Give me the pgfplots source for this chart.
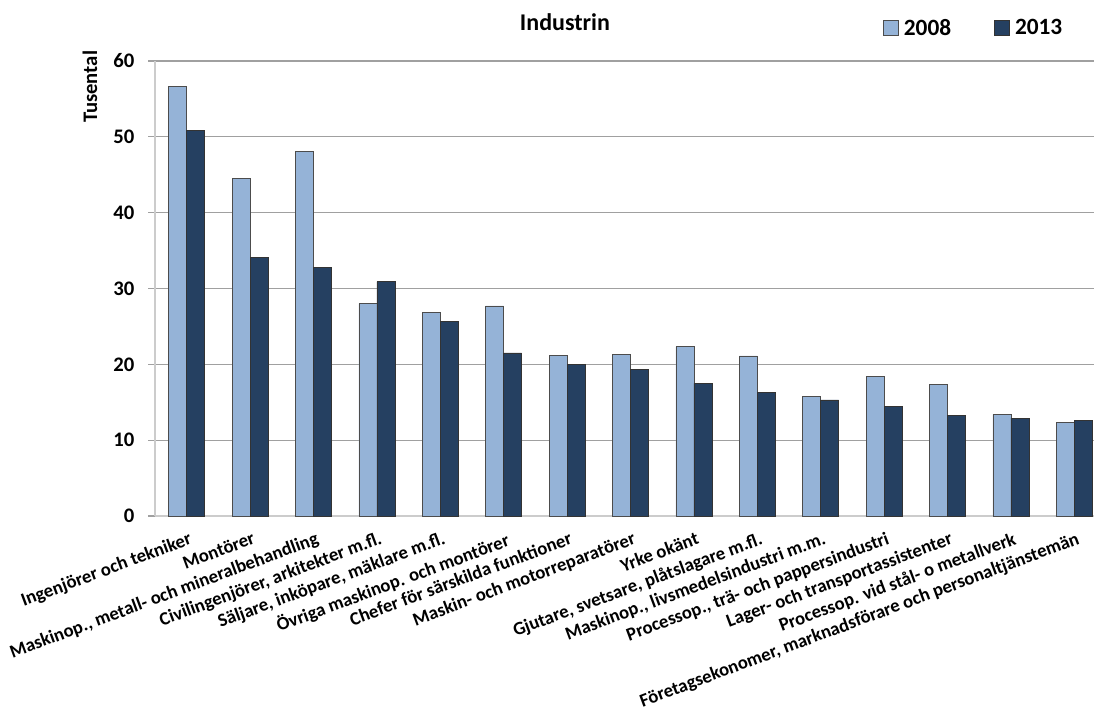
\documentclass[border=0pt]{standalone}
\usepackage{fontspec}
\setmainfont{Carlito}
\usepackage{pgfplots}
\pgfplotsset{compat=1.18}
\definecolor{c2008}{HTML}{95B3D7}
\definecolor{c2013}{HTML}{254061}
\definecolor{gridc}{HTML}{A0A0A0}
\definecolor{axisc}{HTML}{CCCCCC}
\pgfplotsset{
 legsq/.style={legend image code/.code={\draw[##1,line width=0.6pt] (0pt,-5.6pt) rectangle (11.25pt,5.6pt);}},
}
\begin{document}
\begin{tikzpicture}
\begin{axis}[
 at={(0,0)}, anchor=south west,
 width=704.25pt, height=341.25pt, scale only axis,
 xmin=-0.5, xmax=14.31, ymin=0, ymax=60,
 ybar=0pt, bar width=13.5pt,
 axis x line*=bottom, axis y line*=left,
 axis line style={-},
 x axis line style={draw=axisc, line width=1pt},
 y axis line style={draw=axisc, line width=1pt},
 ymajorgrids, grid style={gridc, line width=0.8pt},
 ytick={0,10,...,60},
 tick align=outside, major tick length=5.25pt,
 ytick style={draw=gridc, line width=0.8pt},
 xtick={0,...,14}, xtick style={draw=none},
 xticklabels={Ingenjörer och tekniker, Montörer, {Maskinop., metall- och mineralbehandling}, {Civilingenjörer, arkitekter m.fl.}, {Säljare, inköpare, mäklare m.fl.}, Övriga maskinop. och montörer, Chefer för särskilda funktioner, Maskin- och motorreparatörer, Yrke okänt, {Gjutare, svetsare, plåtslagare m.fl.}, {Maskinop., livsmedelsindustri m.m.}, {Processop., trä- och pappersindustri}, Lager- och transportassistenter, Processop. vid stål- o metallverk, {Företagsekonomer, marknadsförare och personaltjänstemän}},
 xticklabel style={rotate=20.5, anchor=north east, inner sep=1pt, yshift=-5pt, font=\bfseries\fontsize{14}{16}\selectfont},
 yticklabel style={xshift=-6.75pt, font=\bfseries\fontsize{15.5}{18}\selectfont},
 /pgf/number format/assume math mode=true,
 ylabel={Tusental},
 ylabel style={at={(axis description cs:0,0.943)}, yshift=48.75pt, anchor=center, font=\bfseries\fontsize{15.5}{18}\selectfont},
 title={Industrin},
 title style={at={(axis description cs:0.4366,1)}, anchor=center, yshift=23pt, font=\bfseries\fontsize{18}{21}\selectfont},
 legend style={at={(axis description cs:0.7705,1.0725)}, anchor=west, draw=none, fill=none, legend columns=2, font=\bfseries\fontsize{17.5}{20}\selectfont, /tikz/every odd column/.append style={column sep=2pt}, /tikz/every even column/.append style={column sep=30pt}},
]
\addplot[legsq, fill=c2008, draw=black!70, line width=0.6pt] coordinates {
 (0,56.7) (1,44.5) (2,48.1) (3,28.0) (4,26.8) (5,27.7) (6,21.2) (7,21.3)
 (8,22.3) (9,21.1) (10,15.8) (11,18.4) (12,17.4) (13,13.4) (14,12.3)
};
\addplot[legsq, fill=c2013, draw=black!80, line width=0.6pt] coordinates {
 (0,50.9) (1,34.1) (2,32.8) (3,30.9) (4,25.7) (5,21.5) (6,20.0) (7,19.3)
 (8,17.5) (9,16.3) (10,15.3) (11,14.5) (12,13.3) (13,12.9) (14,12.6)
};
\legend{2008,2013}
\end{axis}
\pgfresetboundingbox
\path[use as bounding box] (-116.25pt,-145.5pt) rectangle (704.25pt,387pt);
\end{tikzpicture}
\end{document}
